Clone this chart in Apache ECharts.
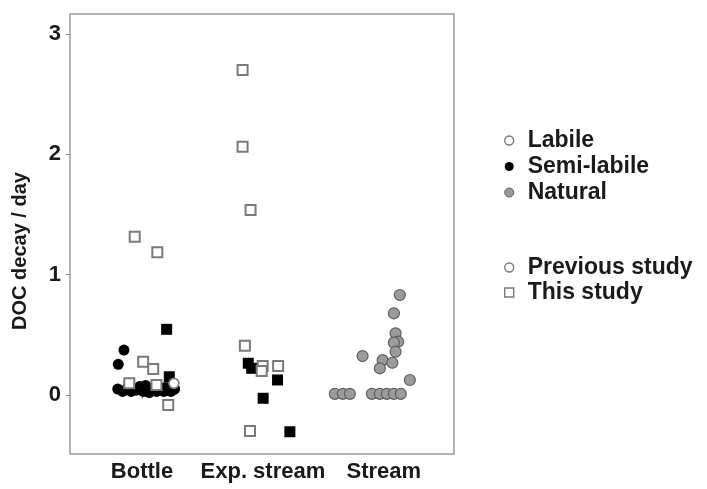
<!DOCTYPE html>
<html>
<head>
<meta charset="utf-8">
<script src="https://cdn.jsdelivr.net/npm/echarts@6/dist/echarts.min.js"></script>
<style>
html,body{margin:0;padding:0;background:#fff;}
#chart{width:707px;height:489px;}
</style>
</head>
<body>
<div id="chart"></div>
<script>
// Categories on the x axis (positions 1, 2, 3; points jittered around them)
const categories = ['Bottle', 'Exp. stream', 'Stream'];
const yTicks = [0, 1, 2, 3];

// [jittered x, DOC decay / day]
const labilePrevious = [[1.264, 0.097]];
const labileThis = [
  [0.94, 1.316], [1.127, 1.186], [1.01, 0.277], [1.093, 0.216], [0.895, 0.097], [1.12, 0.083], [1.217, -0.083],
  [1.832, 2.70], [1.832, 2.064], [1.898, 1.538], [1.851, 0.41], [1.998, 0.241], [1.99, 0.20], [2.126, 0.241], [1.893, -0.299]
];
const semiPrevious = [
  [0.851, 0.374], [0.804, 0.255],
  [0.80, 0.05], [0.84, 0.03], [0.88, 0.06], [0.91, 0.03], [0.95, 0.04], [0.98, 0.07], [1.01, 0.03], [1.03, 0.08],
  [1.06, 0.02], [1.09, 0.05], [1.12, 0.03], [1.15, 0.06], [1.18, 0.03], [1.21, 0.04], [1.24, 0.03], [1.27, 0.05]
];
const semiThis = [
  [1.204, 0.546], [1.226, 0.152], [1.22, 0.06],
  [1.879, 0.264], [1.907, 0.222], [2.121, 0.125], [2.002, -0.027], [2.223, -0.305]
];
const naturalPrevious = [
  [3.132, 0.831], [3.083, 0.679], [3.097, 0.513], [3.118, 0.443], [3.083, 0.435], [3.097, 0.36],
  [2.824, 0.324], [2.99, 0.29], [3.07, 0.268], [2.967, 0.222], [3.215, 0.125],
  [2.595, 0.01], [2.661, 0.01], [2.719, 0.01], [2.901, 0.01], [2.967, 0.01], [3.025, 0.01], [3.083, 0.01], [3.14, 0.01]
];

const FONT = 'Liberation Sans, Arial, sans-serif';
const chart = echarts.init(document.getElementById('chart'), null, {renderer: 'canvas'});

const openCircleStyle = {color: '#fff', borderColor: '#7a7a7a', borderWidth: 1.6, opacity: 1};
const openSquareStyle = {color: '#fff', borderColor: '#7a7a7a', borderWidth: 2, opacity: 1};
const blackStyle = {color: '#000', borderColor: '#000', borderWidth: 0, opacity: 1};
const grayStyle = {color: '#9b9b9b', borderColor: '#5e5e5e', borderWidth: 1.2, opacity: 1};

const legendText = {fontFamily: FONT, fontWeight: 'bold', fontSize: 23, color: '#1a1a1a', lineHeight: 20, padding: [0, 0, 0, 9]};
const legendIcon = {borderWidth: 1.4};

chart.setOption({
  animation: false,
  backgroundColor: '#fff',
  grid: {left: 70, right: 253, top: 14, bottom: 35, show: true, borderColor: '#9a9a9a', borderWidth: 1.5, backgroundColor: 'transparent'},
  xAxis: {
    type: 'value', min: 0.405, max: 3.58,
    splitLine: {show: false},
    axisLine: {show: false},
    axisTick: {show: true, customValues: [1, 2, 3], length: 4, lineStyle: {color: '#8a8a8a', width: 1.2}},
    axisLabel: {
      customValues: [1, 2, 3],
      formatter: v => categories[Math.round(v) - 1] || '',
      fontFamily: FONT, fontWeight: 'bold', fontSize: 22, color: '#1a1a1a', margin: 7
    }
  },
  yAxis: {
    type: 'value', min: -0.49, max: 3.166,
    name: 'DOC decay / day', nameLocation: 'middle', nameGap: 40,
    nameTextStyle: {fontFamily: FONT, fontWeight: 'bold', fontSize: 20, color: '#1a1a1a', padding: [0, 34, 0, 0]},
    splitLine: {show: false},
    axisLine: {show: false},
    axisTick: {show: true, customValues: yTicks, length: 4, lineStyle: {color: '#8a8a8a', width: 1.2}},
    axisLabel: {
      customValues: yTicks,
      formatter: v => String(v),
      fontFamily: FONT, fontWeight: 'bold', fontSize: 22, color: '#1a1a1a', margin: 9
    }
  },
  legend: [
    {
      orient: 'vertical', left: 499, top: 124, itemWidth: 9, itemHeight: 9, itemGap: 3, align: 'left',
      textStyle: legendText, selectedMode: false,
      data: [
        {name: 'Labile', icon: 'circle', itemStyle: Object.assign({}, openCircleStyle, legendIcon)},
        {name: 'Semi-labile', icon: 'circle', itemStyle: blackStyle},
        {name: 'Natural', icon: 'circle', itemStyle: Object.assign({}, grayStyle, {borderWidth: 1})}
      ]
    },
    {
      orient: 'vertical', left: 499, top: 251, itemWidth: 9, itemHeight: 9, itemGap: 2, align: 'left',
      textStyle: legendText, selectedMode: false,
      data: [
        {name: 'Previous study', icon: 'circle', itemStyle: Object.assign({}, openCircleStyle, legendIcon)},
        {name: 'This study', icon: 'rect', itemStyle: Object.assign({}, openSquareStyle, legendIcon)}
      ]
    }
  ],
  series: [
    {name: 'Semi-labile', type: 'scatter', symbol: 'circle', symbolSize: 11, itemStyle: blackStyle, data: semiPrevious},
    {name: 'Semi-labile this', type: 'scatter', symbol: 'rect', symbolSize: 11, itemStyle: blackStyle, data: semiThis},
    {name: 'Natural', type: 'scatter', symbol: 'circle', symbolSize: 11, itemStyle: grayStyle, data: naturalPrevious},
    {name: 'Labile', type: 'scatter', symbol: 'circle', symbolSize: 10, itemStyle: openCircleStyle, data: labilePrevious},
    {name: 'This study', type: 'scatter', symbol: 'rect', symbolSize: 10, itemStyle: openSquareStyle, data: labileThis},
    {name: 'Previous study', type: 'scatter', data: []}
  ]
});
</script>
</body>
</html>
